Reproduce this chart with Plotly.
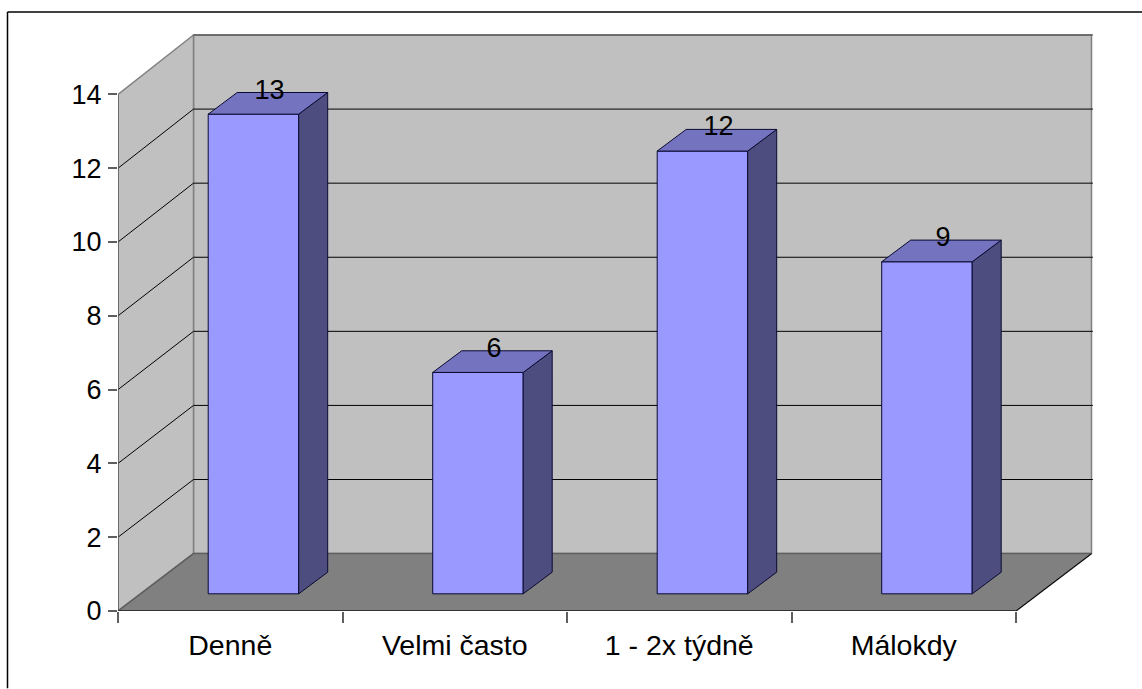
import plotly.graph_objects as go

categories = ["Denně", "Velmi často", "1 - 2x týdně", "Málokdy"]
values = [13, 6, 12, 9]
y_ticks = [0, 2, 4, 6, 8, 10, 12, 14]

W, H = 1142, 689
L, R, T, B = 118.0, 1098.0, 28.5, 611.5
CAT_PX, VAL_PX = 224.5, 36.96
WALL_DX, WALL_DY = 75.5 / CAT_PX, 57.5 / VAL_PX
BACK_SCALE = 519.5 / (14 * VAL_PX)
BAR_DX, BAR_DY = 29 / CAT_PX, 21.7 / VAL_PX
OFF_X, OFF_Y = 23.2 / CAT_PX, 17.2 / VAL_PX
BAR_W = 90.5 / CAT_PX
N = len(categories)
YMAX = y_ticks[-1]
FONT = "Liberation Sans, Arial, sans-serif"
GREY = "#808080"
DARK = "#5f5f5f"
EDGE = "#0a0a30"


def back(v):
    return WALL_DY + v * BACK_SCALE


def poly(xs, ys, fill, line, width=1, axes="xy"):
    return go.Scatter(x=xs, y=ys, mode="lines", fill="toself" if fill else None, fillcolor=fill,
                      line=dict(color=line, width=width), hoverinfo="skip", showlegend=False,
                      xaxis="x" if axes == "xy" else "x2", yaxis="y" if axes == "xy" else "y2")


fig = go.Figure()
# Walls and floor
fig.add_trace(poly([WALL_DX, N + WALL_DX, N + WALL_DX, WALL_DX, WALL_DX],
                   [back(0), back(0), back(YMAX), back(YMAX), back(0)], "#C0C0C0", GREY, 1.5))
fig.add_trace(poly([0, WALL_DX, WALL_DX, 0, 0], [0, back(0), back(YMAX), YMAX, 0], "#C0C0C0", GREY, 1.5))
fig.add_trace(poly([0, N, N + WALL_DX, WALL_DX, 0], [0, 0, back(0), back(0), 0], GREY, DARK, 1.5))
# Gridlines
for v in y_ticks[1:-1]:
    fig.add_trace(poly([0, WALL_DX, N + WALL_DX + 0.006], [v, back(v), back(v)], None, "#000000", 1))
# Axis edges
fig.add_trace(poly([0, 0], [0, YMAX], None, DARK, 1.5))
fig.add_trace(poly([0, N, N + WALL_DX], [0, 0, back(0)], None, "#000000", 1))
fig.add_trace(poly([WALL_DX, N + WALL_DX + 0.006], [back(YMAX), back(YMAX)], None, DARK, 1.5))

# Bars
centres = [i + 0.5 + OFF_X for i in range(N)]
fig.add_trace(go.Bar(x=centres, y=values, base=[OFF_Y] * N, width=BAR_W, xaxis="x2", yaxis="y2",
                     marker=dict(color="#9999FF", line=dict(color=EDGE, width=1)),
                     hoverinfo="skip", showlegend=False))
for c, v in zip(centres, values):
    l, r = c - BAR_W / 2, c + BAR_W / 2
    top = v + OFF_Y
    fig.add_trace(poly([r, r + BAR_DX, r + BAR_DX, r, r],
                       [OFF_Y, OFF_Y + BAR_DY, top + BAR_DY, top, OFF_Y],
                       "#4D4D80", EDGE, 1, axes="2"))
    fig.add_trace(poly([l, r, r + BAR_DX, l + BAR_DX, l],
                       [top, top, top + BAR_DY, top + BAR_DY, top],
                       "#7373BF", EDGE, 1, axes="2"))
# Data labels
fig.add_trace(go.Scatter(x=[c + BAR_DX / 2 + 1.5 / CAT_PX for c in centres],
                         y=[v + OFF_Y + BAR_DY + 0.02 for v in values],
                         text=[str(v) for v in values], mode="text", textposition="middle center",
                         textfont=dict(family=FONT, size=27, color="#000000"), cliponaxis=False,
                         hoverinfo="skip", showlegend=False, xaxis="x2", yaxis="y2"))

x_range = [0, (R - L) / CAT_PX]
y_range = [0, (B - T) / VAL_PX]
px = lambda x: (x - L) / (R - L)
py = lambda y: (B - y) / (B - T)

fig.update_layout(
    width=W, height=H, autosize=False,
    margin=dict(l=L, r=W - R, t=T, b=H - B, pad=0),
    paper_bgcolor="#FFFFFF", plot_bgcolor="rgba(0,0,0,0)",
    font=dict(family=FONT, size=27, color="#000000"),
    barmode="overlay",
    xaxis=dict(range=x_range, tickmode="array", tickvals=[i + 0.5 for i in range(N)], ticktext=categories,
               ticks="", showgrid=False, zeroline=False, showline=False, ticklabelstandoff=14,
               tickfont=dict(family=FONT, size=28.5, color="#000000")),
    yaxis=dict(range=y_range, tickmode="array", tickvals=y_ticks, ticks="outside", ticklen=9,
               tickcolor=DARK, tickwidth=1.5, showgrid=False, zeroline=False, showline=False,
               ticklabelstandoff=1, tickfont=dict(family=FONT, size=27, color="#000000")),
    xaxis2=dict(range=x_range, overlaying="x", anchor="y2", tickmode="array", tickvals=list(range(N + 1)),
                ticks="outside", ticklen=11, tickcolor=DARK, tickwidth=1.5, showticklabels=False,
                showgrid=False, zeroline=False, showline=False),
    yaxis2=dict(range=y_range, overlaying="y", anchor="x2", showticklabels=False, ticks="",
                showgrid=False, zeroline=False, showline=False),
    shapes=[dict(type="line", xref="paper", yref="paper", x0=px(7.5), x1=px(W), y0=py(11.5), y1=py(11.5),
                 line=dict(color="#000000", width=1.5)),
            dict(type="line", xref="paper", yref="paper", x0=px(7.5), x1=px(7.5), y0=py(11.5), y1=py(H),
                 line=dict(color="#000000", width=1.5))],
)

fig.write_html("out.html", config={"displayModeBar": False},
               post_script="document.body.style.margin='0';document.body.style.overflow='hidden';")
